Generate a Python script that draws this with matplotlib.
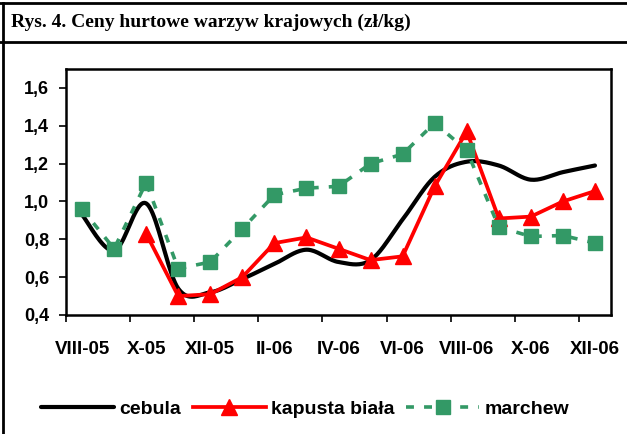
import numpy as np
import matplotlib
matplotlib.use('Agg')
import matplotlib.pyplot as plt
from matplotlib.lines import Line2D
from matplotlib.ticker import FuncFormatter, FixedLocator

months = ['VIII-05', 'IX-05', 'X-05', 'XI-05', 'XII-05', 'I-06', 'II-06', 'III-06',
          'IV-06', 'V-06', 'VI-06', 'VII-06', 'VIII-06', 'IX-06', 'X-06', 'XI-06', 'XII-06']
cebula = [0.93, 0.74, 0.99, 0.54, 0.52, 0.59, 0.67, 0.745, 0.68, 0.69, 0.905,
          1.13, 1.21, 1.19, 1.115, 1.155, 1.19]
kapusta = [np.nan, np.nan, 0.83, 0.50, 0.51, 0.60, 0.78, 0.81, 0.75, 0.69, 0.71,
           1.08, 1.37, 0.91, 0.92, 1.00, 1.055]
marchew = [0.96, 0.75, 1.10, 0.645, 0.68, 0.855, 1.035, 1.07, 1.08, 1.20, 1.25,
           1.415, 1.27, 0.865, 0.815, 0.82, 0.78]


def smooth(y, steps=20):
    # Excel-like smoothed line (Catmull-Rom through the points)
    y = np.asarray(y, dtype=float)
    x = np.arange(len(y), dtype=float)
    px = np.concatenate([[x[0]], x, [x[-1]]])
    py = np.concatenate([[y[0]], y, [y[-1]]])
    xs, ys = [], []
    t = np.linspace(0, 1, steps, endpoint=False)
    for i in range(1, len(px) - 2):
        p0, p1, p2, p3 = py[i - 1], py[i], py[i + 1], py[i + 2]
        q0, q1, q2, q3 = px[i - 1], px[i], px[i + 1], px[i + 2]
        c1y, c2y = p1 + (p2 - p0) / 6, p2 - (p3 - p1) / 6
        c1x, c2x = q1 + (q2 - q0) / 6, q2 - (q3 - q1) / 6
        b = [(1 - t) ** 3, 3 * (1 - t) ** 2 * t, 3 * (1 - t) * t ** 2, t ** 3]
        xs.append(b[0] * q1 + b[1] * c1x + b[2] * c2x + b[3] * q2)
        ys.append(b[0] * p1 + b[1] * c1y + b[2] * c2y + b[3] * p2)
    xs.append([x[-1]])
    ys.append([y[-1]])
    return np.concatenate(xs), np.concatenate(ys)


plt.rcParams['font.family'] = 'Liberation Sans'
plt.rcParams['font.weight'] = 'bold'

fig = plt.figure(figsize=(6.27, 4.34), dpi=100)
ax = fig.add_axes([66 / 627, 1 - 315 / 434, 545 / 627, 246 / 434])

x = np.arange(len(months))
green = '#339966'

sx, sy = smooth(cebula)
ax.plot(sx, sy, color='black', lw=3, solid_capstyle='round', label='cebula', zorder=3)
ax.plot(x, kapusta, color='red', lw=2.7, marker='^', ms=11, label='kapusta biała', zorder=4)
ax.plot(x, marchew, color=green, lw=2.6, ls=(0, (2.2, 2.8)), marker='s', ms=10.5,
        label='marchew', zorder=5)

ax.set_xlim(-0.5, len(months) - 0.5)
ax.set_ylim(0.4, 1.7)
ax.set_yticks(np.arange(0.4, 1.61, 0.2))
ax.yaxis.set_major_formatter(FuncFormatter(lambda v, p: f'{v:.1f}'.replace('.', ',')))

ax.xaxis.set_major_locator(FixedLocator(x[::2]))
ax.set_xticklabels(months[::2])
ax.xaxis.set_minor_locator(FixedLocator(np.arange(-0.5, len(months) - 1, 2)))
ax.tick_params(axis='x', which='major', length=0, pad=19, labelsize=13.5)
ax.tick_params(axis='x', which='minor', length=5, width=1.2, direction='out')
ax.tick_params(axis='y', length=5, width=1.2, pad=7, labelsize=13)

for s in ax.spines.values():
    s.set_linewidth(1.8)

ax.legend(loc='center', bbox_to_anchor=(305 / 627, 1 - 409 / 434), bbox_transform=fig.transFigure,
          ncol=3, frameon=False, fontsize=14, handlelength=3.75, handletextpad=0.26,
          columnspacing=0.62, numpoints=1, borderpad=0)

# frame of the figure box
fig.add_artist(Line2D([0, 1], [1 - 2.5 / 434] * 2, color='black', lw=2))
fig.add_artist(Line2D([0, 1], [1 - 42 / 434] * 2, color='black', lw=2))
fig.add_artist(Line2D([2.5 / 627] * 2, [0, 1 - 2.5 / 434], color='black', lw=2))

fig.text(11 / 627, 1 - 22 / 434, 'Rys. 4. Ceny hurtowe warzyw krajowych (zł/kg)',
         family='Liberation Serif', weight='bold', fontsize=14, va='center', ha='left')

fig.savefig('out.png', dpi=100)
